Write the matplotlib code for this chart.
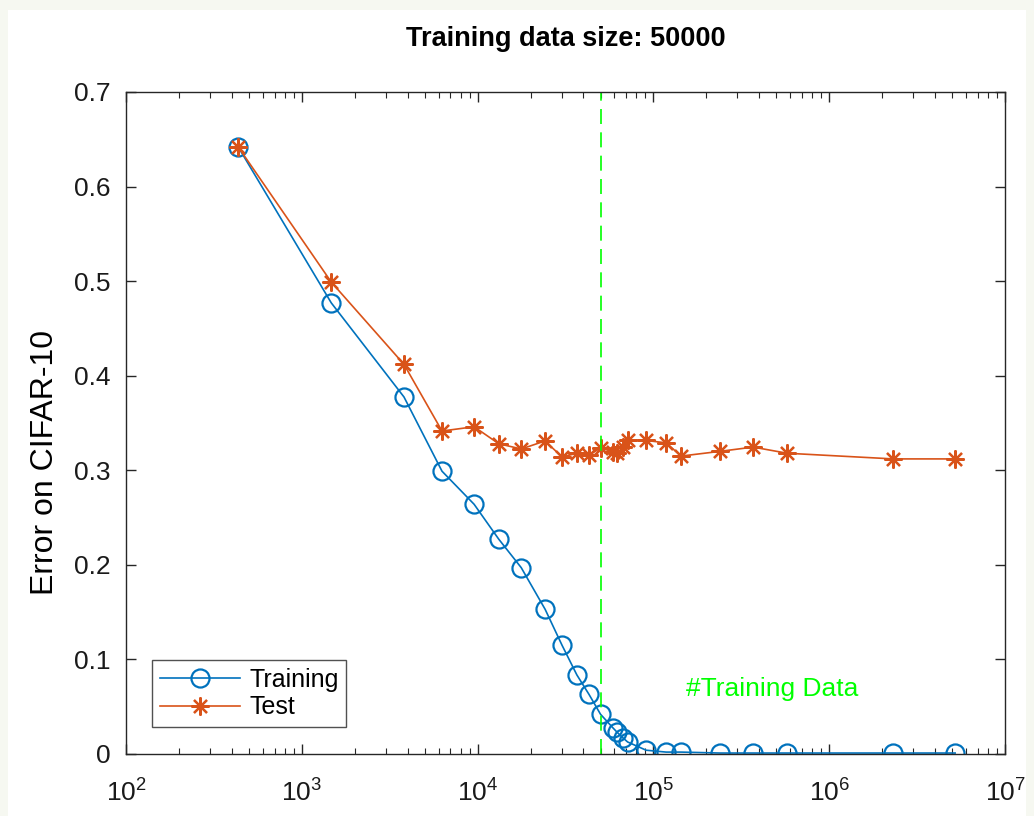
import matplotlib.pyplot as plt
from matplotlib.patches import Rectangle

plt.rcParams['font.family'] = ['Liberation Sans', 'DejaVu Sans']
plt.rcParams['mathtext.fontset'] = 'custom'
plt.rcParams['mathtext.rm'] = 'Liberation Sans'
plt.rcParams['mathtext.it'] = 'Liberation Sans'

# number of data points (x) shared by both curves
sizes = [434, 1470, 3810, 6270, 9550, 13200, 17700, 24200, 30200, 36700,
         43000, 50000, 58900, 62100, 67100, 71300, 90800, 118000, 143700,
         239000, 369000, 576000, 2310000, 5200000]

train_err = [0.642, 0.477, 0.3775, 0.299, 0.264, 0.227, 0.197, 0.153, 0.115,
             0.0835, 0.063, 0.042, 0.0275, 0.023, 0.017, 0.0127, 0.004, 0.002,
             0.002, 0.001, 0.001, 0.001, 0.001, 0.001]

test_err = [0.642, 0.499, 0.412, 0.3415, 0.346, 0.328, 0.3225, 0.331, 0.314,
            0.318, 0.316, 0.3235, 0.3195, 0.318, 0.3245, 0.332, 0.3315, 0.329,
            0.315, 0.320, 0.3245, 0.318, 0.312, 0.312]

n_train = 50000

blue = '#0072BD'
orange = '#D95319'

fig = plt.figure(figsize=(10.34, 8.16), dpi=100, facecolor='#f6f8f1')
# white page area (slight off-white border in the screenshot)
page = Rectangle((8 / 1034, 0), 1018 / 1034, 806 / 816,
                 transform=fig.transFigure, facecolor='white',
                 edgecolor='none', zorder=-10)
fig.add_artist(page)

ax = fig.add_axes([0.1219, 0.076, 0.8501, 0.8113])

ax.plot(sizes, train_err, '-o', color=blue, lw=1.2, ms=13, mfc='none',
        mew=1.6, label='Training')
ax.plot(sizes, test_err, '-', marker=(8, 2, 0), color=orange, lw=1.2, ms=13,
        mew=1.6, label='Test')

ax.axvline(n_train, color='#00FF00', lw=1.2, dashes=(9, 5))
ax.text(153000, 0.0687, '#Training Data', color='#00FF00', fontsize=19,
        ha='left', va='center')

ax.set_xscale('log')
ax.set_xlim(1e2, 1e7)
ax.set_ylim(0, 0.7)
ax.set_yticks([0, 0.1, 0.2, 0.3, 0.4, 0.5, 0.6, 0.7])
ax.set_yticklabels(['0', '0.1', '0.2', '0.3', '0.4', '0.5', '0.6', '0.7'])

ax.tick_params(which='both', direction='in', top=True, right=True,
               color='#262626', labelsize=19, labelcolor='#1a1a1a')
ax.tick_params(which='major', length=7, width=1)
ax.tick_params(which='minor', length=4, width=0.8)
ax.tick_params(axis='x', which='major', pad=18)
ax.tick_params(axis='y', which='major', pad=11)
for s in ax.spines.values():
    s.set_color('#262626')
    s.set_linewidth(1.0)

ax.set_ylabel('Error on CIFAR-10', fontsize=23)
ax.yaxis.set_label_coords(-0.075, 0.441)
ax.set_title('Training data size: 50000', fontsize=19.5, fontweight='bold',
             pad=33)

leg = ax.legend(loc='lower left', bbox_to_anchor=(0.0296, 0.041),
                borderaxespad=0, fontsize=18, frameon=True, fancybox=False,
                edgecolor='#262626', handlelength=3.2, handletextpad=0.4,
                borderpad=0.3, labelspacing=0.15)
leg.get_frame().set_linewidth(1.0)

fig.savefig('out.png', dpi=100, facecolor=fig.get_facecolor())
